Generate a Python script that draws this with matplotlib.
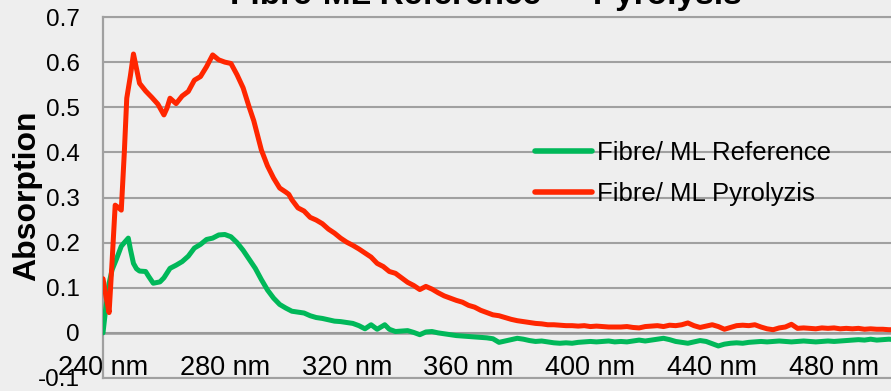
import matplotlib
matplotlib.use("Agg")
import matplotlib.pyplot as plt
from matplotlib.ticker import MultipleLocator, FuncFormatter

plt.rcParams['font.family'] = ['Liberation Sans', 'DejaVu Sans']

# ---------------- data ----------------
title = "Fibre-ML Reference \u2014 Pyrolysis"
y_label = "Absorption"
ref_label = "Fibre/ ML Reference"
pyr_label = "Fibre/ ML Pyrolyzis"

ref_nm = [240, 241, 242, 243, 244.5, 246, 247, 248.3, 249, 250, 251, 252, 254, 255, 256.5, 258.7,
          260, 262, 264, 266, 268, 270, 272, 274, 276, 278, 280, 282, 284, 286, 288, 290,
          292, 294, 296, 298, 300, 302, 304, 306, 308, 310, 312, 314, 316, 318, 320, 322,
          324, 326, 328, 330, 332.5, 334, 336, 338, 340, 342, 344, 346, 348, 350, 352, 354,
          356, 358, 360, 362, 364, 366, 368, 370, 372, 374, 376, 378, 380, 382, 384, 386,
          388, 390, 392, 394, 396, 398, 400, 402, 404, 406, 408, 410, 412, 414, 416, 418,
          420, 422, 424, 426, 428, 430, 432, 434, 436, 438, 440, 442, 444, 446, 448, 450,
          452, 454, 456, 458, 460, 462, 464, 466, 468, 470, 472, 474, 476, 478, 480, 482,
          484, 486, 488, 490, 492, 494, 496, 498, 500]
ref_val = [0.0, 0.06, 0.11, 0.14, 0.165, 0.192, 0.20, 0.210, 0.185, 0.154, 0.142, 0.137, 0.136, 0.125, 0.110, 0.113,
           0.122, 0.143, 0.150, 0.158, 0.170, 0.188, 0.196, 0.207, 0.210, 0.217, 0.218, 0.213, 0.200, 0.183, 0.163, 0.143,
           0.118, 0.095, 0.077, 0.063, 0.055, 0.048, 0.046, 0.044, 0.038, 0.034, 0.032, 0.029, 0.026, 0.025, 0.023, 0.021,
           0.016, 0.009, 0.018, 0.008, 0.018, 0.008, 0.003, 0.004, 0.005, 0.001, -0.004, 0.002, 0.003, 0.000, -0.002, -0.004,
           -0.006, -0.007, -0.008, -0.009, -0.010, -0.011, -0.013, -0.021, -0.018, -0.015, -0.012, -0.014, -0.017, -0.019, -0.018, -0.020,
           -0.022, -0.023, -0.022, -0.023, -0.021, -0.020, -0.019, -0.020, -0.019, -0.018, -0.020, -0.019, -0.020, -0.018, -0.016, -0.018,
           -0.016, -0.014, -0.012, -0.015, -0.019, -0.021, -0.023, -0.020, -0.017, -0.019, -0.024, -0.029, -0.025, -0.023, -0.022, -0.023,
           -0.021, -0.020, -0.019, -0.020, -0.019, -0.018, -0.019, -0.020, -0.019, -0.018, -0.019, -0.020, -0.019, -0.018, -0.019, -0.018,
           -0.017, -0.016, -0.015, -0.016, -0.014, -0.016, -0.015, -0.014, -0.015]

pyr_nm = [240, 241, 242, 243, 244, 245, 246, 247, 247.8, 249, 250, 251, 252, 254, 256, 258,
          260, 261, 262, 264, 266, 268, 270, 272, 274, 276, 278, 280, 282, 284, 286, 288,
          289.5, 292, 294, 296, 298, 300, 301, 302, 304, 306, 308, 310, 312, 314, 316, 318,
          320, 322, 324, 326, 328, 330, 332, 334, 336, 338, 340, 342, 344, 346, 348, 350,
          352, 354, 356, 358, 360, 362, 364, 366, 368, 370, 372, 374, 376, 378, 380, 382,
          384, 386, 388, 390, 392, 394, 396, 398, 400, 402, 404, 406, 408, 410, 412, 414,
          416, 418, 420, 422, 424, 426, 428, 430, 432, 434, 436, 438, 440, 442, 444, 446,
          448, 450, 452, 454, 456, 458, 460, 462, 464, 466, 468, 470, 472, 474, 476, 478,
          480, 482, 484, 486, 488, 490, 492, 494, 496, 498, 500]
pyr_val = [0.12, 0.08, 0.045, 0.16, 0.283, 0.278, 0.272, 0.40, 0.52, 0.57, 0.618, 0.585, 0.553, 0.536, 0.522, 0.507,
           0.483, 0.498, 0.520, 0.508, 0.525, 0.535, 0.56, 0.568, 0.59, 0.616, 0.605, 0.600, 0.597, 0.572, 0.543, 0.50,
           0.470, 0.405, 0.37, 0.343, 0.321, 0.312, 0.307, 0.295, 0.277, 0.270, 0.256, 0.250, 0.242, 0.230, 0.221, 0.210,
           0.201, 0.194, 0.186, 0.177, 0.168, 0.154, 0.147, 0.136, 0.132, 0.122, 0.112, 0.105, 0.096, 0.103, 0.097, 0.089,
           0.082, 0.077, 0.072, 0.068, 0.061, 0.057, 0.050, 0.045, 0.040, 0.038, 0.034, 0.030, 0.027, 0.025, 0.023, 0.021,
           0.020, 0.018, 0.018, 0.017, 0.016, 0.016, 0.015, 0.016, 0.014, 0.015, 0.014, 0.013, 0.013, 0.013, 0.014, 0.012,
           0.011, 0.014, 0.015, 0.016, 0.014, 0.017, 0.016, 0.018, 0.022, 0.016, 0.012, 0.015, 0.018, 0.014, 0.008, 0.012,
           0.016, 0.017, 0.016, 0.018, 0.013, 0.009, 0.007, 0.011, 0.013, 0.019, 0.010, 0.011, 0.010, 0.009, 0.011, 0.010,
           0.011, 0.009, 0.010, 0.009, 0.010, 0.008, 0.009, 0.008, 0.008, 0.007, 0.007]

x_ticks = [240, 280, 320, 360, 400, 440, 480]

# ---------------- figure ----------------
W, H = 891, 391
bg = '#EEEEEE'
grid_c = '#A0A0A0'
fig = plt.figure(figsize=(W / 100, H / 100), dpi=100, facecolor=bg)
ax = fig.add_axes([103 / W, 1 - 378 / H, (895 - 103) / W, (378 - 17) / H])
ax.set_facecolor(bg)

ax.plot(ref_nm, ref_val, color='#00B859', lw=3.6, solid_joinstyle='round',
        solid_capstyle='round', label=ref_label, zorder=3)
ax.plot(pyr_nm, pyr_val, color='#FF2600', lw=3.6, solid_joinstyle='round',
        solid_capstyle='round', label=pyr_label, zorder=4)

ax.set_xlim(240, 500)
ax.set_ylim(-0.1, 0.7)
ax.yaxis.set_major_locator(MultipleLocator(0.1))
ax.yaxis.set_major_formatter(FuncFormatter(lambda v, p: '0' if abs(v) < 1e-9 else f'{v:.1f}'))
ax.set_xticks(x_ticks)
ax.set_xticklabels([f'{t} nm' for t in x_ticks])
ax.grid(axis='y', color=grid_c, lw=1.5)
ax.set_axisbelow(True)
# bottom (-0.1) and top (0.7) grid lines drawn fully
for yv in (-0.1, 0.7):
    ax.axhline(yv, color=grid_c, lw=1.5, clip_on=False, zorder=0.5)

for s in ['top', 'right']:
    ax.spines[s].set_visible(False)
ax.spines['left'].set_color(grid_c)
ax.spines['left'].set_linewidth(1.6)
ax.spines['bottom'].set_position(('data', 0))
ax.spines['bottom'].set_color('#999999')
ax.spines['bottom'].set_linewidth(1.8)
ax.tick_params(axis='x', length=0, pad=16, labelsize=19.5)
ax.tick_params(axis='y', length=0, pad=17, labelsize=17.5)

fig.text(27 / W, 1 - 196 / H, y_label, rotation=90, ha='center', va='center',
         fontsize=23, fontweight='bold')
fig.text(486 / W, 1 - 4 / H, title, ha='center', va='baseline',
         fontsize=24, fontweight='bold')

leg = ax.legend(loc='upper left', bbox_to_anchor=(535 / W, 1 - 141 / H),
                bbox_transform=fig.transFigure, frameon=False, fontsize=18.5,
                handlelength=2.2, handletextpad=0.2, labelspacing=0.68,
                borderpad=0, borderaxespad=0)
for h in leg.get_lines():
    h.set_linewidth(4)

fig.savefig('out.png', dpi=100, facecolor=bg)
